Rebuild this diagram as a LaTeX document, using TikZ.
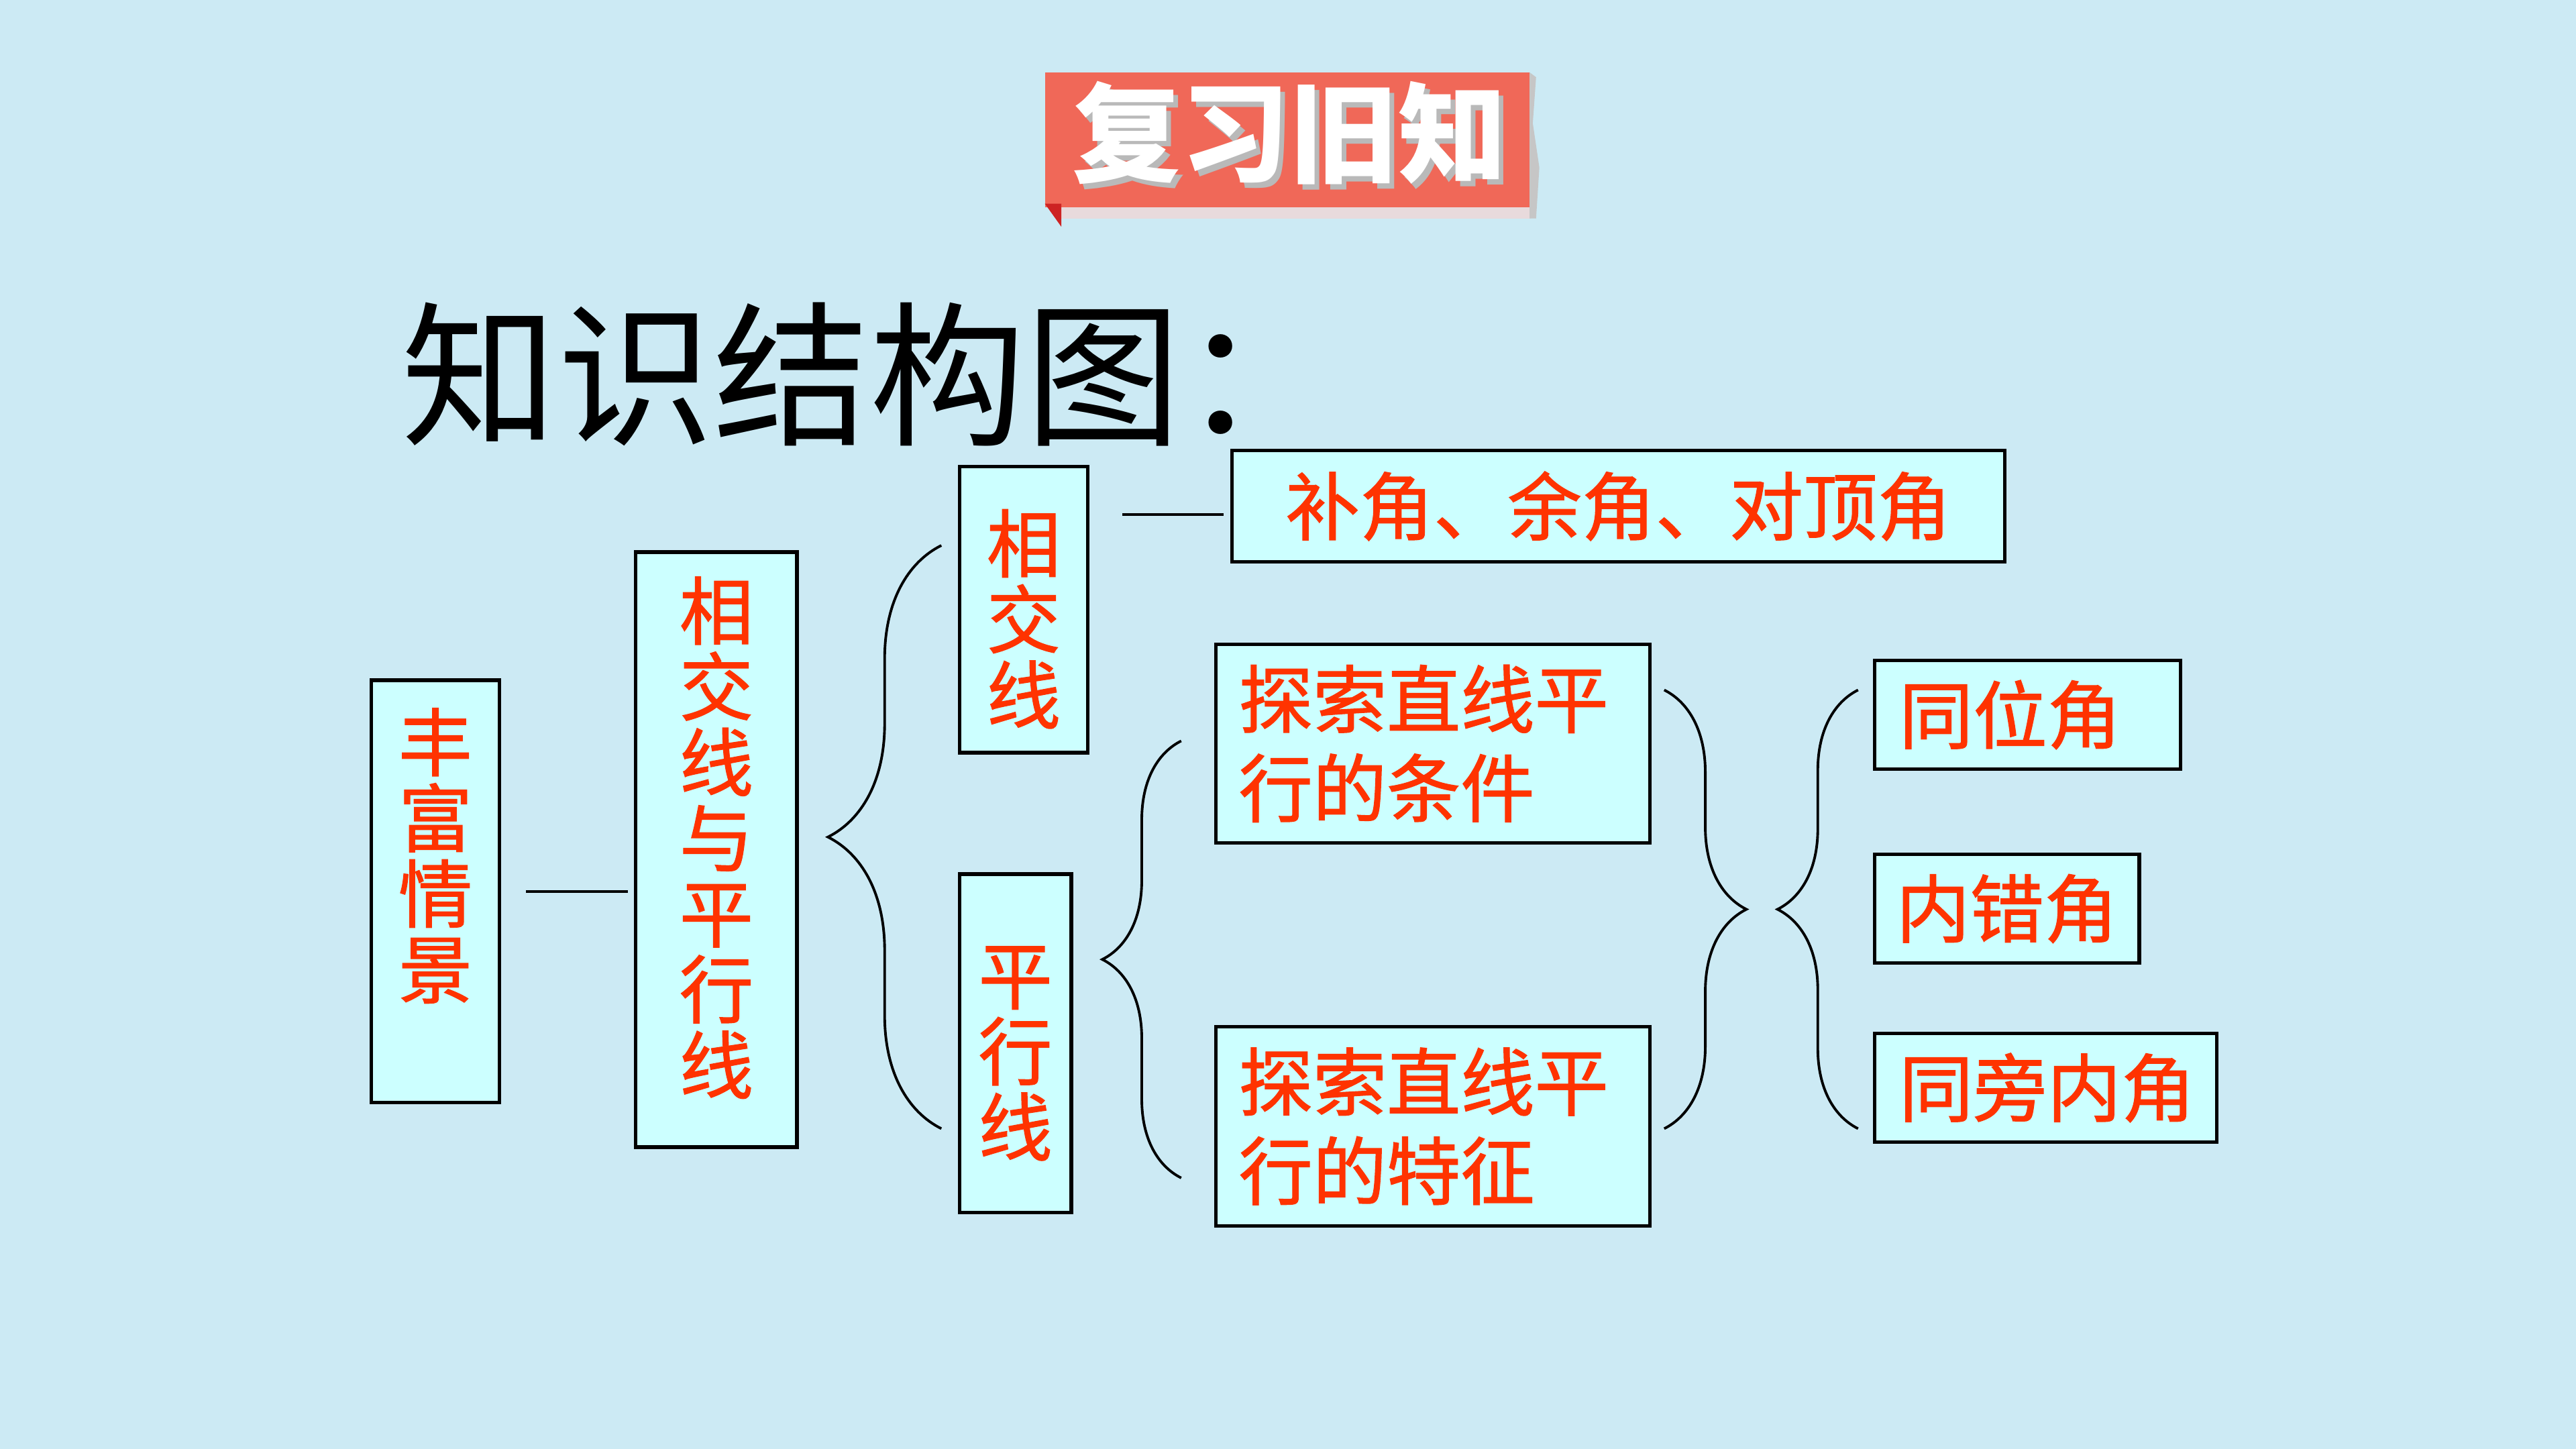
\documentclass[tikz,border=0pt]{standalone}
\usepackage{fontspec}
\setmainfont{Noto Sans CJK SC}
\newfontfamily\boxfont[FakeBold=1.2]{Noto Sans CJK SC}
\usepackage{tikz}
\usetikzlibrary{calc,positioning,decorations.pathreplacing}

\definecolor{bgblue}{RGB}{204,234,244}
\definecolor{boxcyan}{RGB}{204,255,255}
\definecolor{txtred}{RGB}{255,51,0}
\definecolor{bannerred}{RGB}{240,104,88}
\definecolor{bannerdark}{RGB}{205,35,35}
\definecolor{bannerlow}{RGB}{232,218,220}

\newcommand{\vtxt}[3]{\parbox[c][#1][t]{1.2em}{\centering\vspace*{#2}#3}}

\begin{document}
\begin{tikzpicture}[x=0.01cm, y=-0.01cm,
        bx/.style = {draw = black, line width = 0.6pt, fill = boxcyan, text = txtred, inner sep = 0pt, anchor = north west, font = \boxfont\fontsize{12.8pt}{13.1pt}\selectfont},
        twoline/.style = {text width = 2.36cm, align = left, font = \boxfont\fontsize{12.8pt}{15.4pt}\selectfont},
        brc/.style = {decorate, decoration = {brace, amplitude = #1}, line width = 0.45pt},
        ln/.style = {line width = 0.45pt}
        ]
        \useasboundingbox (0,0) rectangle (1568,882);
        \fill[bgblue] (0,0) rectangle (1568,882);

        % banner
        \fill[bannerlow] (644,125) rectangle (932,133);
        \fill[bannerred] (636,44) rectangle (931,126);
        \fill[gray!45] (931,44) -- (935,47) -- (933,75) -- (937,102) -- (935,133) -- (931,133) -- cycle;
        \fill[bannerdark] (636,124) -- (646,124) -- (646,138) -- cycle;
        \node[text = gray!55, font = \bfseries\fontsize{18.8pt}{20pt}\selectfont] (fxs) at (788,84) {复习旧知};
        \node[text = white, font = \bfseries\fontsize{18.8pt}{20pt}\selectfont] (fx) at (785,81) {复习旧知};

        \node[anchor = west, font = \fontsize{27pt}{32pt}\selectfont] (ttl) at (232,228) {知识结构图：};

        \node[bx, minimum width = 0.78cm] (fq) at (225,413) {\vtxt{2.57cm}{0.17cm}{丰\\富\\情\\景}};
        \node[bx, minimum width = 0.98cm] (xp) at (386,335) {\vtxt{3.62cm}{0.15cm}{相\\交\\线\\与\\平\\行\\线}};
        \node[bx, minimum width = 0.78cm] (xj) at (583,283) {\vtxt{1.74cm}{0.26cm}{相\\交\\线}};
        \node[bx, minimum width = 0.68cm] (px) at (583,531) {\vtxt{2.06cm}{0.44cm}{平\\行\\线}};

        \node[bx, minimum width = 4.70cm, minimum height = 0.68cm] (bj) at (749,273) {补角、余角、对顶角};
        \node[bx, twoline, minimum width = 2.64cm, minimum height = 1.21cm] (tj) at (739,391) {探索直线平\\行的条件};
        \node[bx, twoline, minimum width = 2.64cm, minimum height = 1.21cm] (tz) at (739,624) {探索直线平\\行的特征};

        \node[bx, minimum width = 1.86cm, minimum height = 0.66cm, text width = 1.56cm, align = left] (tw) at (1140,401) {同位角};
        \node[bx, minimum width = 1.61cm, minimum height = 0.66cm] (nc) at (1140,519) {内错角};
        \node[bx, minimum width = 2.08cm, minimum height = 0.66cm, text width = 1.78cm, align = left] (tp) at (1140,628) {同旁内角};

        \draw[ln] ($(fq.east)+(15,0)$) -- ($(fq.east -| xp.west)+(-4,0)$);
        \draw[ln] ($(bj.west -| xj.east)+(20,5)$) -- ($(bj.west)+(-4,5)$);

        % brace ends
        \coordinate (b1t) at (573,332);
        \coordinate (b1b) at (573,687);
        \coordinate (b2t) at (719,451);
        \coordinate (b2b) at (719,717);
        \coordinate (b3t) at (1013,420);
        \coordinate (b3b) at (1013,687);
        \coordinate (b4t) at (1131,420);
        \coordinate (b4b) at (1131,687);

        \draw[brc = 0.69cm] (b1b) -- (b1t);
        \draw[brc = 0.48cm] (b2b) -- (b2t);
        \draw[brc = 0.50cm] (b3t) -- (b3b);
        \draw[brc = 0.49cm] (b4b) -- (b4t);

    \end{tikzpicture}
\end{document}
